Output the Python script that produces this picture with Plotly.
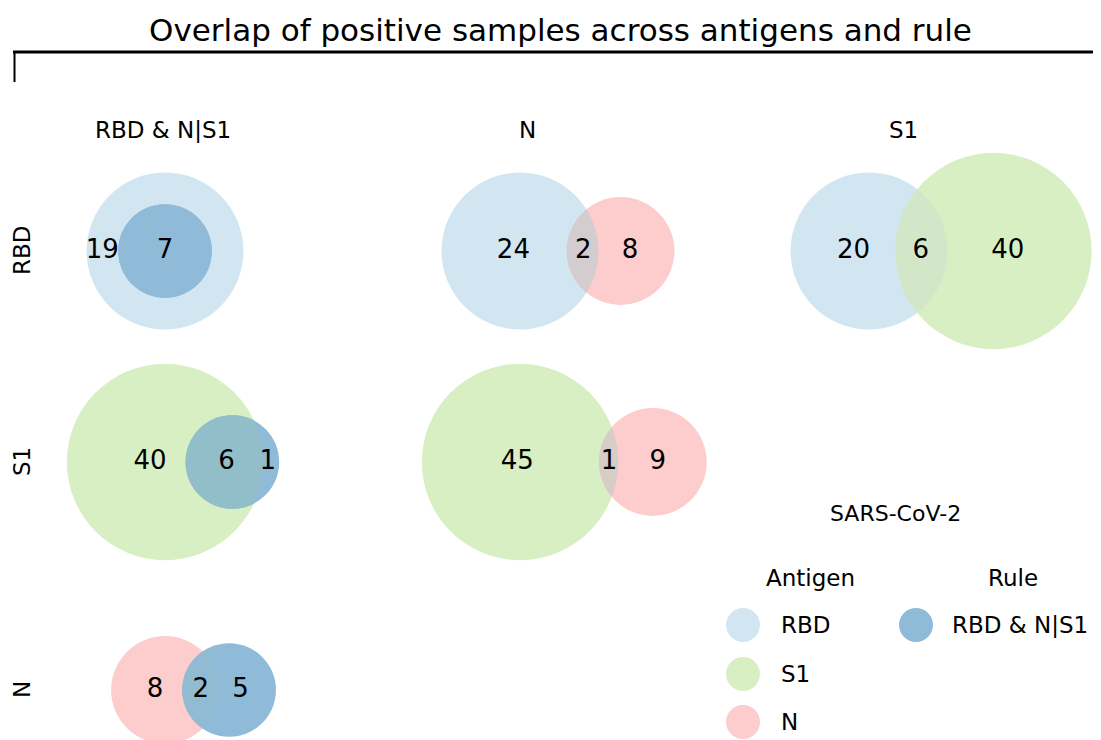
import numpy as np
import plotly.graph_objects as go

# ---- data ----
title = "Overlap of positive samples across antigens and rule"
row_sets = ["RBD", "S1", "N"]
col_sets = ["Rule", "N", "S1"]
col_headers = ["RBD & N|S1", "N", "S1"]
rule_name = "RBD & N|S1"

panel_row = ["RBD", "RBD", "RBD", "S1", "S1", "N"]
panel_col = ["Rule", "N", "S1", "Rule", "N", "Rule"]
only_a = [19, 24, 20, 40, 45, 8]
both = [7, 2, 6, 6, 1, 2]
only_b = [0, 8, 40, 1, 9, 5]

antigens = ["RBD", "S1", "N"]
legend_title = "SARS-CoV-2"

# ---- layout / style ----
# page body has an 8px margin, so the figure is 8px smaller and the axis ranges start at 8
OFF = 8
W, H = 1101, 740
FONT = "'DejaVu Sans', sans-serif"
col_x = {"Rule": 165, "N": 520, "S1": 869}
row_y = {"RBD": 251, "S1": 462, "N": 690}
header_x = {"Rule": 163, "N": 527, "S1": 903}
fill = {"RBD": "#d2e6f1", "S1": "#d8efc4", "N": "#fdcccc", "Rule": "#8fbbd9"}
lens_fill = {
    ("RBD", "Rule"): "#8fbbd9",
    ("RBD", "N"): "#d4cdcf",
    ("RBD", "S1"): "#d2e6c8",
    ("S1", "Rule"): "#91bec8",
    ("S1", "N"): "#d8cdc6",
    ("N", "Rule"): "#91bbd2",
}


def radius(n):
    return 21.8 * n ** 0.393


def lens_area(r1, r2, d):
    if d >= r1 + r2:
        return 0.0
    if d <= abs(r1 - r2):
        return np.pi * min(r1, r2) ** 2
    a1 = np.arccos((d * d + r1 * r1 - r2 * r2) / (2 * d * r1))
    a2 = np.arccos((d * d + r2 * r2 - r1 * r1) / (2 * d * r2))
    k = np.sqrt((-d + r1 + r2) * (d + r1 - r2) * (d - r1 + r2) * (d + r1 + r2))
    return r1 * r1 * a1 + r2 * r2 * a2 - 0.5 * k


def solve_d(r1, r2, frac):
    target = frac * np.pi * min(r1, r2) ** 2
    lo, hi = abs(r1 - r2), r1 + r2
    for _ in range(60):
        mid = (lo + hi) / 2
        if lens_area(r1, r2, mid) > target:
            lo = mid
        else:
            hi = mid
    return (lo + hi) / 2


fig = go.Figure()
shapes = []
tx, ty, tt = [], [], []

for i in range(len(panel_row)):
    a, b = panel_row[i], panel_col[i]
    na, nb = only_a[i] + both[i], only_b[i] + both[i]
    ra, rb = radius(na), radius(nb)
    cxa, cy = col_x[b], row_y[a]
    if only_b[i] == 0:
        d = 0.0
    else:
        d = solve_d(ra, rb, both[i] / min(na, nb))
    cxb = cxa + d
    for cx, r, s in [(cxa, ra, a), (cxb, rb, b)]:
        shapes.append(dict(type="circle", xref="x", yref="y", x0=cx - r, x1=cx + r,
                           y0=cy - r, y1=cy + r, fillcolor=fill[s], line_width=0, layer="below"))
    if only_b[i] == 0:
        # rule circle entirely inside
        shapes.append(dict(type="circle", xref="x", yref="y", x0=cxb - rb, x1=cxb + rb,
                           y0=cy - rb, y1=cy + rb, fillcolor=lens_fill[(a, b)], line_width=0, layer="below"))
        tx += [(cxa - ra + cxb - rb) / 2, cxb]
        ty += [cy, cy]
        tt += [str(only_a[i]), str(both[i])]
        continue
    # lens polygon
    xi = (d * d + ra * ra - rb * rb) / (2 * d)
    ta = np.arccos(np.clip(xi / ra, -1, 1))
    tb = np.arccos(np.clip((d - xi) / rb, -1, 1))
    angA = np.linspace(-ta, ta, 60)
    angB = np.linspace(np.pi - tb, np.pi + tb, 60)
    px = np.concatenate([cxa + ra * np.cos(angA), cxb + rb * np.cos(angB)])
    py = np.concatenate([cy + ra * np.sin(angA), cy - rb * np.sin(angB)])
    path = "M " + " L ".join(f"{x:.2f},{y:.2f}" for x, y in zip(px, py)) + " Z"
    shapes.append(dict(type="path", xref="x", yref="y", path=path,
                       fillcolor=lens_fill[(a, b)], line_width=0, layer="below"))
    # region label positions: centroids from a sampled grid
    gx, gy = np.meshgrid(np.arange(cxa - ra, cxb + rb, 0.5), np.arange(cy - ra, cy + ra, 0.5))
    inA = (gx - cxa) ** 2 + (gy - cy) ** 2 <= ra ** 2
    inB = (gx - cxb) ** 2 + (gy - cy) ** 2 <= rb ** 2
    for mask, val in [(inA & ~inB, only_a[i]), (inA & inB, both[i]), (inB & ~inA, only_b[i])]:
        tx.append(gx[mask].mean())
        ty.append(cy)
        tt.append(str(val))

fig.add_trace(go.Scatter(x=tx, y=ty, text=tt, mode="text", hoverinfo="skip",
                         textfont=dict(family=FONT, size=26, color="black")))

# legend markers
fig.add_trace(go.Scatter(x=[743] * len(antigens), y=[625, 674, 722], mode="markers", hoverinfo="skip",
                         marker=dict(size=34, color=[fill[s] for s in antigens], line_width=0)))
fig.add_trace(go.Scatter(x=[916], y=[625], mode="markers", hoverinfo="skip",
                         marker=dict(size=34, color=fill["Rule"], line_width=0)))

ann = []
ann.append(dict(x=560, y=30, text=title, font=dict(size=31), borderpad=0))
for s, h in zip(col_sets, col_headers):
    ann.append(dict(x=header_x[s], y=130, text=h, font=dict(size=23)))
for s in row_sets:
    ann.append(dict(x=22, y=row_y[s], text=s, textangle=-90, font=dict(size=23)))
ann.append(dict(x=895, y=513, text=legend_title, font=dict(size=22)))
ann.append(dict(x=810, y=578, text="Antigen", font=dict(size=23)))
ann.append(dict(x=1013, y=578, text="Rule", font=dict(size=23)))
for s, y in zip(antigens, [625, 674, 722]):
    ann.append(dict(x=779, y=y, text=s, xanchor="left", font=dict(size=23)))
ann.append(dict(x=950, y=625, text=rule_name, xanchor="left", font=dict(size=23)))
for a_ in ann:
    a_.setdefault("xanchor", "center")
    a_.update(xref="x", yref="y", yanchor="middle", showarrow=False)
    a_["font"].update(family=FONT, color="black")

# bracket under the title
shapes.append(dict(type="line", xref="x", yref="y", x0=13, x1=W, y0=52, y1=52, line=dict(color="black", width=3)))
shapes.append(dict(type="line", xref="x", yref="y", x0=14.5, x1=14.5, y0=52, y1=82, line=dict(color="black", width=2)))

fig.update_layout(
    width=W - OFF, height=H - OFF, margin=dict(l=0, r=0, t=0, b=0),
    paper_bgcolor="white", plot_bgcolor="white", showlegend=False,
    shapes=shapes, annotations=ann,
    xaxis=dict(range=[OFF, W], visible=False, fixedrange=True),
    yaxis=dict(range=[H, OFF], visible=False, fixedrange=True),
)
fig.write_html("out.html")
